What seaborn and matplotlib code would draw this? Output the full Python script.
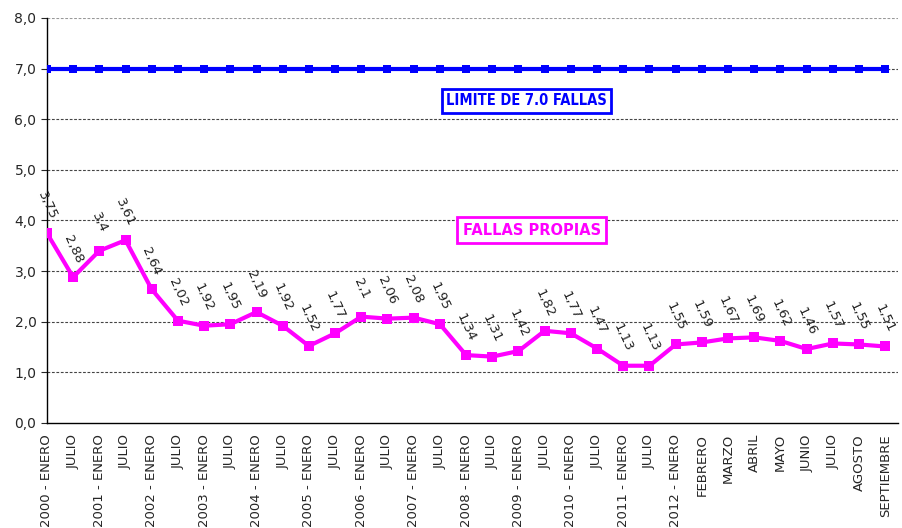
import pandas as pd
import matplotlib.pyplot as plt
import seaborn as sns

# Data
periodos = [
    "2000 - ENERO", "JULIO", "2001 - ENERO", "JULIO", "2002 - ENERO", "JULIO",
    "2003 - ENERO", "JULIO", "2004 - ENERO", "JULIO", "2005 - ENERO", "JULIO",
    "2006 - ENERO", "JULIO", "2007 - ENERO", "JULIO", "2008 - ENERO", "JULIO",
    "2009 - ENERO", "JULIO", "2010 - ENERO", "JULIO", "2011 - ENERO", "JULIO",
    "2012 - ENERO", "FEBRERO", "MARZO", "ABRIL", "MAYO", "JUNIO", "JULIO",
    "AGOSTO", "SEPTIEMBRE",
]
fallas_propias = [
    3.75, 2.88, 3.4, 3.61, 2.64, 2.02, 1.92, 1.95, 2.19, 1.92, 1.52, 1.77,
    2.1, 2.06, 2.08, 1.95, 1.34, 1.31, 1.42, 1.82, 1.77, 1.47, 1.13, 1.13,
    1.55, 1.59, 1.67, 1.69, 1.62, 1.46, 1.57, 1.55, 1.51,
]
limite = [7.0] * len(periodos)

df = pd.DataFrame({
    "idx": range(len(periodos)),
    "periodo": periodos,
    "propias": fallas_propias,
    "limite": limite,
})

sns.set_style("white")
plt.rcParams["font.family"] = ["DejaVu Sans"]

fig = plt.figure(figsize=(9.02, 5.28), dpi=100)
ax = fig.add_axes([0.052, 0.199, 0.944, 0.767])

# Grid lines
for v in range(1, 9):
    ax.axhline(v, color="#444444" if v < 8 else "#999999", lw=0.8,
               ls=(0, (2.5, 1.5)), zorder=0)

sns.lineplot(data=df, x="idx", y="limite", ax=ax, color="#0000FF", lw=3,
             marker="s", markersize=6, markeredgewidth=0, zorder=3)
sns.lineplot(data=df, x="idx", y="propias", ax=ax, color="#FF00FF", lw=3,
             marker="s", markersize=7, markeredgewidth=0, zorder=3)

# Value labels
for i, v in enumerate(fallas_propias):
    txt = f"{v:g}".replace(".", ",")
    ax.annotate(txt, (i, v), xytext=(0, 20), textcoords="offset points",
                ha="center", va="center", rotation=-65, fontsize=9.5,
                color="#222222", rotation_mode="anchor")

ax.text(18.3, 6.36, "LIMITE DE 7.0 FALLAS", color="#0000FF", fontsize=10.5,
        fontweight="bold", ha="center", va="center", fontstretch="condensed",
        bbox=dict(boxstyle="square,pad=0.3", fc="white", ec="#0000FF", lw=2))
ax.text(18.5, 3.81, "FALLAS PROPIAS", color="#FF00FF", fontsize=10.5,
        fontweight="bold", ha="center", va="center",
        bbox=dict(boxstyle="square,pad=0.35", fc="white", ec="#FF00FF", lw=2))

ax.set_xlim(0, 32.5)
ax.set_ylim(0, 8)
ax.set_xticks(range(len(periodos)))
ax.set_xticklabels(periodos, rotation=90, fontsize=9.5)
ax.set_yticks(range(0, 9))
ax.set_yticklabels([f"{v},0" for v in range(0, 9)], fontsize=10)
ax.tick_params(axis="x", direction="inout", length=8, width=0.8, pad=4)
ax.tick_params(axis="y", direction="out", length=4, width=0.8, left=True)
ax.set_xlabel("")
ax.set_ylabel("")
for s in ["top", "right"]:
    ax.spines[s].set_visible(False)
for s in ["left", "bottom"]:
    ax.spines[s].set_color("black")
    ax.spines[s].set_linewidth(1)

fig.savefig("out.png", dpi=100)
